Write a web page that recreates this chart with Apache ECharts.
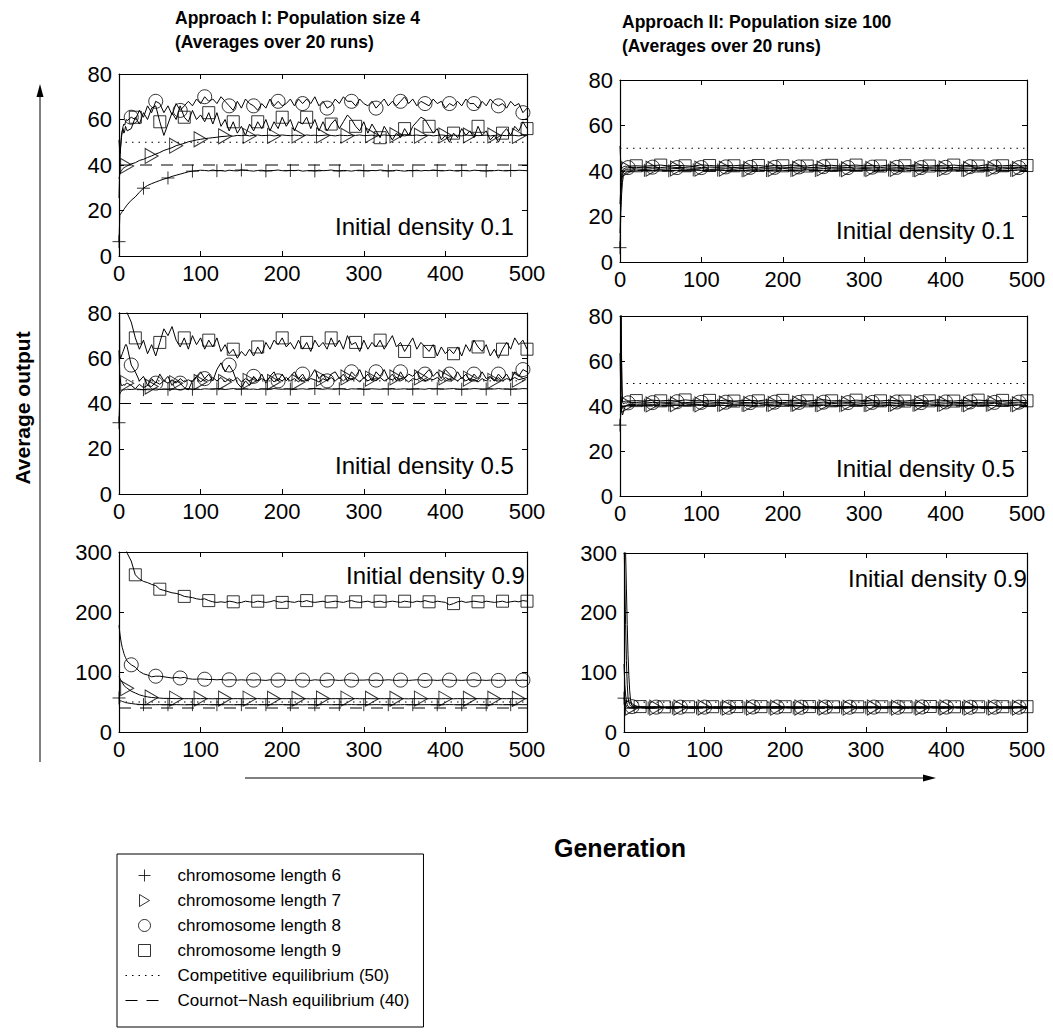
<!DOCTYPE html>
<html><head><meta charset="utf-8">
<script src="https://cdn.jsdelivr.net/npm/echarts@6/dist/echarts.min.js"></script>
<style>html,body{margin:0;padding:0;background:#fff}#c{width:1053px;height:1035px}</style>
</head><body><div id="c"></div>
<script>
// ---------- generations (x values) ----------
const GEN_I = [0,1,2,3,4,5,6,7,8,9,10,
 15,20,25,30,35,40,45,50,55,60,
 65,70,75,80,85,90,95,100,105,110,
 115,120,125,130,135,140,145,150,155,160,
 165,170,175,180,185,190,195,200,205,210,
 215,220,225,230,235,240,245,250,255,260,
 265,270,275,280,285,290,295,300,305,310,
 315,320,325,330,335,340,345,350,355,360,
 365,370,375,380,385,390,395,400,405,410,
 415,420,425,430,435,440,445,450,455,460,
 465,470,475,480,485,490,495,500];
const GEN_II = [0,1,2,3,4,5,6,7,8,9,10,
 20,30,40,50,60,70,80,90,100,110,
 120,130,140,150,160,170,180,190,200,210,
 220,230,240,250,260,270,280,290,300,310,
 320,330,340,350,360,370,380,390,400,410,
 420,430,440,450,460,470,480,490,500];

const X_TICKS = [0,100,200,300,400,500];
const COMPETITIVE = 50;
const COURNOT = 40;
const LEGEND_NAMES = ['chromosome length 6','chromosome length 7','chromosome length 8','chromosome length 9','Competitive equilibrium (50)','Cournot\u2212Nash equilibrium (40)'];
const TITLES = ['Approach I: Population size 4\n(Averages over 20 runs)','Approach II: Population size 100\n(Averages over 20 runs)'];
const DENSITY_LABELS = ['Initial density 0.1','Initial density 0.1','Initial density 0.5','Initial density 0.5','Initial density 0.9','Initial density 0.9'];

// ---------- Approach I, density 0.1 ----------
const P1_L6 = [6.3,18,18.5,19,19.5,20,20.5,21,21.5,22,22.5,
 24.5,26,28,29.8,31,31.8,32.5,33.2,33.8,34.3,
 35,35.5,36,36.5,37,37.3,37.5,37.7,37.6,37.4,
 37.8,37.5,37.6,37.3,37.7,37.5,37.4,37.8,37.6,37.5,
 37.3,37.6,37.7,37.4,37.5,37.6,37.8,37.5,37.4,37.6,
 37.5,37.7,37.3,37.5,37.6,37.4,37.7,37.5,37.6,37.8,
 37.5,37.4,37.6,37.5,37.3,37.6,37.7,37.5,37.4,37.6,
 37.5,37.8,37.6,37.4,37.5,37.7,37.5,37.3,37.6,37.5,
 37.7,37.4,37.6,37.5,37.8,37.6,37.4,37.5,37.7,37.5,
 37.3,37.6,37.5,37.4,37.7,37.6,37.5,37.4,37.6,37.5,
 37.7,37.5,37.4,37.6,37.5,37.7,37.6,37.5];
const P1_L7 = [34,36,37,37.5,38,38.5,38.8,39,39.2,39.4,39.6,
 40.5,41,42,42.5,43.3,44,44.8,45.5,46.4,47,
 47.6,48.5,49,49.5,50.2,50.6,51,51.3,51.6,51.8,
 52,52.2,52.5,52.6,52.8,52.7,53,52.9,53.1,52.8,
 53,53.2,52.9,53,53.1,52.8,53,53.2,53,52.9,
 53.1,53,52.8,53.2,53,53.1,52.9,53,53.2,53,
 52.8,53.1,53,52.9,53.1,53,53.2,52.9,53,53.1,
 52.8,53,53.2,53,52.9,53.1,53,52.8,53.1,53,
 53.2,52.9,53,53.1,52.8,53,53.2,53,52.9,53.1,
 53,52.8,53.2,53,53.1,52.9,53,53.1,52.8,53,
 53.2,53,52.9,53.1,53,52.8,53.1,53];
const P1_L8 = [25.5,40,48,53,55,57,58,57.5,59,60,59.5,
 61,60,64,61,66,63,68,67,63,66,
 62,67,64,66,68,66,69,67,70,68,
 69,67,70,68,66,64,68,65,69,67,
 66,64,67,65,69,66,68,66,67,69,
 66,69,67,69,67,70,66,68,65,66,
 69,67,70,68,68,66,69,67,66,68,
 65,67,69,66,68,66,68,70,67,69,
 66,68,67,66,69,67,68,65,67,66,
 68,66,69,67,67,65,68,66,69,67,
 66,67,65,68,66,67,63,65];
const P1_L9 = [51,45,48,52,55,56,54,55,57,56,55,
 56,61,58,63,60,65,66,59,53,58,
 63,60,66,61,59,64,60,62,59,63,
 58,63,57,60,55,59,54,57,53,58,
 55,59,56,60,55,59,56,61,57,60,
 55,59,58,61,56,60,55,59,55,58,
 60,56,59,62,60,57,55,59,54,58,
 55,52,57,54,51,54,52,56,53,57,
 59,61,60,57,54,56,51,53,50,54,
 52,56,53,55,52,57,53,55,51,53,
 50,54,56,53,57,55,59,56];

// ---------- Approach II, density 0.1 ----------
const P2_L6 = [6.3,22,30,35,37.5,38.5,39,39.3,39.5,39.7,39.8,
 40.1,40.3,40.2,40.4,40.1,40.3,40.2,40.5,40.2,40.3,
 40.4,40.2,40.3,40.1,40.4,40.3,40.2,40.4,40.3,40.2,
 40.3,40.5,40.2,40.3,40.1,40.4,40.3,40.2,40.4,40.3,
 40.2,40.4,40.3,40.5,40.2,40.3,40.4,40.2,40.3,40.4,
 40.3,40.2,40.4,40.3,40.5,40.2,40.3,40.4,40.3];
const P2_L7 = [12.7,28,35,38,39.5,40.2,40.5,40.6,40.7,40.7,40.8,
 40.9,40.7,41,40.8,40.9,41.1,40.8,40.9,41,40.7,
 40.9,41,40.8,41.1,40.9,40.8,41,40.9,41.2,40.8,
 41,40.9,40.8,41.1,40.9,41,40.8,40.9,41.1,40.9,
 40.8,41,40.9,41.2,40.9,40.8,41,40.9,41.1,40.8,
 41,40.9,41.1,40.8,41,40.9,41.2,40.9,41];
const P2_L8 = [25.5,33,38,40,40.8,41,41.2,41.3,41.4,41.3,41.5,
 41.6,41.4,41.7,41.5,41.8,41.5,41.6,41.9,41.5,41.7,
 41.6,41.8,41.5,41.7,41.6,41.4,41.8,41.6,41.7,41.5,
 41.8,41.6,41.5,41.9,41.6,41.7,41.5,41.8,41.6,41.7,
 41.5,41.8,41.6,41.7,41.9,41.5,41.6,41.8,41.6,41.5,
 41.7,41.9,41.6,41.5,41.8,41.6,41.7,41.5,41.8];
const P2_L9 = [51,43,41,41.5,41.8,42,42,42.1,42,42.2,42.1,
 42.3,42.1,42.4,42.6,42.2,42.5,42.3,42.1,42.7,42.4,
 42.2,42.5,42.3,42.6,42.2,42.4,42.1,42.5,42.3,42.6,
 42.4,42.2,42.7,42.3,42.5,42.2,42.4,42.6,42.3,42.5,
 42.2,42.6,42.4,42.3,42.5,42.7,42.2,42.4,42.3,42.6,
 42.3,42.5,42.2,42.7,42.4,42.3,42.5,42.2,42.4];

// ---------- Approach I, density 0.5 ----------
const P3_L6 = [31.5,44,45,45.5,45.8,46,46.1,46,46.2,46.1,46.3,
 46.2,46.4,46.3,46.1,46.4,46.3,46.5,46.2,46.4,46.3,
 46.5,46.3,46.2,46.4,46.6,46.3,46.4,46.2,46.5,46.4,
 46.3,46.5,46.4,46.2,46.4,46.6,46.3,46.4,46.5,46.3,
 46.4,46.2,46.5,46.4,46.3,46.6,46.4,46.3,46.5,46.4,
 46.2,46.4,46.5,46.3,46.4,46.6,46.4,46.3,46.5,46.4,
 46.3,46.5,46.4,46.2,46.5,46.4,46.6,46.3,46.4,46.5,
 46.4,46.3,46.5,46.4,46.6,46.3,46.4,46.5,46.3,46.4,
 46.5,46.4,46.3,46.6,46.4,46.5,46.3,46.4,46.5,46.6,
 46.4,46.3,46.5,46.4,46.6,46.5,46.3,46.4,46.5,46.4,
 46.6,46.4,46.5,46.3,46.5,46.4,46.6,46.5];
const P3_L7 = [63.5,52,49,48,48,48,48.5,48,48.5,49,49,
 48,46.5,48.5,47,48,47.5,49.5,48.5,50,49,
 50.5,49,51,49.5,50.5,49.5,51.5,49.5,51,50,
 51.5,50,51.5,49.5,51,50,51.5,49.5,51,50,
 51.5,50,51,50,51.5,49.5,51,50,51.5,50,
 51,49.5,51.5,50,51,50.5,49.5,51,50,51.5,
 50,51.5,50,51.5,50.5,51,49.5,51.5,50,51,
 50,51.5,50,51,50.5,51.5,50,51,49.5,51,
 50.5,51.5,50,51,50.5,51.5,50,51.5,50.5,51,
 50,51.5,50,51,50.5,49.5,51,50,51.5,50,
 51.5,50,51,50.5,51.5,50.5,51,51.5];
const P3_L8 = [127.5,62,60,61,62,63,64,65,66,66,65,
 57,54,50,52,48,51,49,53,50,52,
 48,50,49,47,46,50,52,54,51,53,
 50,55,58,54,57,54,49,47,50,48,
 52,50,53,49,52,54,50,53,50,52,
 54,51,53,50,52,55,51,53,50,53,
 54,51,53,50,54,52,55,51,53,50,
 54,52,55,51,53,50,54,51,53,52,
 54,51,53,55,52,54,51,55,53,51,
 54,51,53,50,53,51,54,51,52,50,
 53,51,53,50,54,52,55,54];
const P3_L9 = [255,150,120,105,95,90,87,85,83,81,80,
 76,69,64,68,62,66,61,67,73,70,
 74,68,65,69,64,70,66,69,64,68,
 65,69,63,66,62,64,60,63,61,64,
 61,65,62,67,64,68,66,69,65,67,
 64,68,64,67,63,68,65,67,64,69,
 65,68,64,70,66,67,63,68,64,67,
 65,68,64,67,70,65,67,63,66,69,
 64,67,65,63,66,61,65,62,64,62,
 65,61,66,63,68,65,63,66,61,64,
 60,64,67,64,69,66,68,64];

// ---------- Approach II, density 0.5 ----------
const P4_L6 = [31.5,37,38.5,39.2,39.6,39.8,40,40.1,40.2,40.2,40.3,
 40.2,40.4,40.3,40.1,40.4,40.2,40.3,40.5,40.2,40.4,
 40.3,40.2,40.4,40.3,40.1,40.3,40.4,40.2,40.5,40.3,
 40.2,40.4,40.3,40.2,40.4,40.1,40.3,40.4,40.2,40.3,
 40.4,40.2,40.3,40.5,40.3,40.2,40.4,40.3,40.1,40.4,
 40.3,40.2,40.4,40.3,40.2,40.5,40.3,40.4,40.2];
const P4_L7 = [63.5,45,38,36,37,38.5,39.5,40,40.3,40.5,40.6,
 40.8,41,40.7,40.9,41.1,40.8,41,40.9,40.7,41,
 40.9,41.1,40.8,41,40.9,41.2,40.8,40.9,41,40.8,
 41.1,40.9,41,40.8,41.2,40.9,41,40.8,41.1,40.9,
 41,40.8,41.1,40.9,41,41.2,40.9,40.8,41,40.9,
 41.1,40.8,41,40.9,41.2,40.9,41,40.8,41];
const P4_L8 = [127.5,85,60,42,41,41.2,41.3,41.4,41.3,41.5,41.4,
 41.6,41.8,41.5,41.7,41.6,41.9,41.5,41.7,41.6,41.8,
 41.5,41.7,41.9,41.6,41.5,41.8,41.6,41.7,41.5,41.8,
 41.6,41.9,41.5,41.7,41.6,41.8,41.5,41.7,41.9,41.6,
 41.7,41.5,41.8,41.6,41.7,41.5,41.9,41.6,41.8,41.5,
 41.6,41.8,41.5,41.7,41.6,41.9,41.6,41.7,41.5];
const P4_L9 = [255,120,48,42,42,42.1,42,42.2,42.1,42,42.2,
 42.4,42.2,42.6,42.3,42.5,42.2,42.7,42.4,42.3,42.5,
 42.3,42.6,42.2,42.4,42.5,42.3,42.7,42.2,42.5,42.4,
 42.6,42.3,42.5,42.8,42.3,42.4,42.2,42.6,42.4,42.5,
 42.3,42.5,42.4,42.2,42.6,42.4,42.3,42.7,42.4,42.2,
 42.5,42.3,42.6,42.4,42.2,42.5,42.4,42.6,42.3];

// ---------- Approach I, density 0.9 ----------
const P5_L6 = [56.7,53,52,51.5,51,50.5,50,49.5,49,48.8,48.5,
 47.5,46.5,46,45.6,45.5,45.4,45.5,45.6,45.4,45.5,
 45.4,45.6,45.5,45.3,45.5,45.6,45.4,45.5,45.7,45.5,
 45.4,45.5,45.6,45.4,45.5,45.3,45.6,45.5,45.4,45.6,
 45.5,45.4,45.6,45.5,45.7,45.4,45.5,45.6,45.5,45.4,
 45.6,45.5,45.3,45.5,45.6,45.4,45.5,45.6,45.5,45.4,
 45.5,45.6,45.4,45.5,45.7,45.5,45.4,45.6,45.5,45.4,
 45.6,45.5,45.4,45.5,45.6,45.3,45.5,45.6,45.4,45.5,
 45.6,45.4,45.5,45.6,45.5,45.4,45.6,45.5,45.7,45.5,
 45.4,45.5,45.6,45.4,45.5,45.6,45.5,45.4,45.5,45.6,
 45.5,45.4,45.6,45.5,45.4,45.6,45.5,45.5];
const P5_L7 = [93,90,87,85,83,80,78,76,75,74,73,
 68,65,62,60,58.5,57.5,57,56.5,56,56,
 55.8,55.6,55.7,55.5,55.6,55.4,55.6,55.5,55.7,55.5,
 55.4,55.6,55.5,55.7,55.4,55.5,55.6,55.5,55.3,55.6,
 55.5,55.7,55.4,55.5,55.6,55.5,55.4,55.6,55.5,55.7,
 55.5,55.4,55.6,55.5,55.3,55.6,55.5,55.7,55.4,55.5,
 55.6,55.5,55.4,55.6,55.5,55.7,55.5,55.4,55.6,55.5,
 55.4,55.6,55.5,55.7,55.5,55.4,55.6,55.5,55.3,55.6,
 55.5,55.6,55.4,55.5,55.7,55.5,55.4,55.6,55.5,55.4,
 55.6,55.5,55.7,55.4,55.5,55.6,55.5,55.4,55.6,55.5,
 55.4,55.6,55.5,55.7,55.5,55.4,55.6,55.5];
const P5_L8 = [178,165,155,147,141,136,131,127,124,121,118,
 112,108,101,97,95,92,93,93,92,91,
 90,91,90,91,89,88,88,88.5,88,87.5,
 87.5,87,87.5,86.5,87,87,86.5,87,86.5,87,
 86.5,87,86.5,86,87,86.5,86.5,87,86.5,86,
 86.5,87,86.5,86.5,86,87,86.5,86,86.5,87,
 86.5,86,86.5,87,86.5,86,86.5,86.5,87,86,
 86.5,86,86.5,87,86.5,86,86.5,86.5,86,86.5,
 87,86.5,86,86.5,86.5,86,86.5,87,86.5,86,
 86.5,86,86.5,86.5,87,86,86.5,86,86.5,86.5,
 86,86.5,86,86.5,86.5,86,86.5,86];
const P5_L9 = [460,420,390,370,350,335,325,315,308,302,298,
 285,262,255,251,249,246,244,238,236,234,
 232,231,229,226,225,224,222,221,222,219,
 217,216,217,216,218,217,215,216,218,217,
 216,218,217,216,217,219,217,216,218,217,
 216,218,217,219,217,216,217,218,216,217,
 218,217,216,218,219,217,216,217,218,216,
 217,218,216,217,218,217,216,218,217,216,
 218,217,219,217,216,218,217,216,212,214,
 217,218,216,217,218,217,216,218,217,216,
 217,218,216,217,218,217,219,218];

// ---------- Approach II, density 0.9 ----------
const P6_L6 = [56.7,50,46,43,41.5,41,40.7,40.5,40.4,40.3,40.3,
 40.3,40.2,40.4,40.3,40.2,40.4,40.3,40.1,40.3,40.4,
 40.2,40.3,40.4,40.2,40.3,40.1,40.4,40.3,40.2,40.3,
 40.4,40.2,40.3,40.3,40.1,40.4,40.2,40.3,40.4,40.2,
 40.3,40.4,40.2,40.3,40.1,40.3,40.4,40.2,40.3,40.4,
 40.2,40.3,40.4,40.1,40.3,40.2,40.4,40.3,40.3];
const P6_L7 = [114,80,62,52,46,43,42,41.5,41.2,41,40.9,
 40.8,40.9,40.7,41,40.8,40.9,40.7,40.8,41,40.9,
 40.7,40.8,40.9,41,40.8,40.7,40.9,40.8,41,40.8,
 40.9,40.7,40.8,41,40.9,40.8,40.7,40.9,40.8,41,
 40.8,40.9,40.7,40.8,41,40.9,40.8,40.7,40.9,40.8,
 41,40.8,40.9,40.7,40.8,40.9,41,40.8,40.9];
const P6_L8 = [330,250,180,120,80,58,50,46,44,43,42.5,
 41.8,41.6,41.7,41.5,41.8,41.6,41.9,41.5,41.7,41.6,
 41.8,41.5,41.7,41.6,41.9,41.6,41.5,41.8,41.6,41.7,
 41.5,41.8,41.6,41.7,41.5,41.9,41.6,41.8,41.5,41.7,
 41.6,41.8,41.5,41.7,41.6,41.9,41.5,41.7,41.8,41.6,
 41.7,41.5,41.8,41.6,41.7,41.5,41.9,41.6,41.7];
const P6_L9 = [460,380,300,240,180,130,95,70,55,47,44,
 42.6,42.3,42.5,42.2,42.4,42.6,42.3,42.5,42.2,42.4,
 42.5,42.3,42.6,42.4,42.2,42.5,42.3,42.7,42.4,42.3,
 42.4,42.6,42.3,42.5,42.2,42.4,42.6,42.3,42.5,42.4,
 42.3,42.5,42.6,42.2,42.4,42.3,42.7,42.4,42.5,42.3,
 42.4,42.6,42.3,42.5,42.2,42.4,42.3,42.6,42.4];

const MARK_STEP = 30;
const MARK_OFFSET_I = [0, 10, 15, 20];
const MARK_OFFSET_II = [0, 10, 10, 20];

// ---------- layout / style (not data) ----------
const FONT = '"Liberation Sans", Arial, Helvetica, sans-serif';
const PANELS = [
  {gen: GEN_I,  ymax: 80,  yint: 20,  lines: [P1_L6,P1_L7,P1_L8,P1_L9], offs: MARK_OFFSET_I,  box: {left:119, top:74,  width:408, height:182}, lab: [335,226]},
  {gen: GEN_II, ymax: 80,  yint: 20,  lines: [P2_L6,P2_L7,P2_L8,P2_L9], offs: MARK_OFFSET_II, box: {left:620, top:80,  width:407, height:182}, lab: [836,230]},
  {gen: GEN_I,  ymax: 80,  yint: 20,  lines: [P3_L6,P3_L7,P3_L8,P3_L9], offs: MARK_OFFSET_I,  box: {left:119, top:313, width:408, height:181}, lab: [335,465]},
  {gen: GEN_II, ymax: 80,  yint: 20,  lines: [P4_L6,P4_L7,P4_L8,P4_L9], offs: MARK_OFFSET_II, box: {left:620, top:316, width:407, height:180}, lab: [836,468]},
  {gen: GEN_I,  ymax: 300, yint: 100, lines: [P5_L6,P5_L7,P5_L8,P5_L9], offs: MARK_OFFSET_I,  box: {left:119, top:552, width:408, height:180}, lab: [346,575]},
  {gen: GEN_II, ymax: 300, yint: 100, lines: [P6_L6,P6_L7,P6_L8,P6_L9], offs: MARK_OFFSET_II, box: {left:624, top:553, width:403, height:179}, lab: [848,578]}
];
const SYMS = [
  {symbol: 'path://M0,5L10,5M5,0L5,10', size: [13,13]},
  {symbol: 'path://M0,0L10,6L0,12Z', size: [13,15]},
  {symbol: 'circle', size: 14},
  {symbol: 'path://M0,0L10,0L10,10L0,10Z', size: [12,12]}
];

PANELS.forEach((p, i) => p.lines.forEach((v, k) => {
  if (v.length !== p.gen.length) console.error('length mismatch panel', i+1, 'series', k, v.length, p.gen.length);
}));

const AX_LINE = {show: true, onZero: false, lineStyle: {color: '#000', width: 1.2}};
const AX_TICK = {show: true, inside: true, length: 5, lineStyle: {color: '#000', width: 1}};
function xAx(i, pos) {
  return {type: 'value', gridIndex: i, position: pos, min: X_TICKS[0], max: X_TICKS[X_TICKS.length-1],
    interval: X_TICKS[1] - X_TICKS[0],
    axisLine: AX_LINE, axisTick: AX_TICK, splitLine: {show: false},
    axisLabel: {show: pos === 'bottom', color: '#000', fontSize: 22, fontFamily: FONT, margin: 6}};
}
function yAx(i, pos, max, itv) {
  return {type: 'value', gridIndex: i, position: pos, min: 0, max: max, interval: itv,
    axisLine: AX_LINE, axisTick: AX_TICK, splitLine: {show: false},
    axisLabel: {show: pos === 'left', color: '#000', fontSize: 22, fontFamily: FONT, margin: 7}};
}

const option = {
  animation: false,
  backgroundColor: '#fff',
  grid: [], xAxis: [], yAxis: [], series: [],
  legend: {
    data: LEGEND_NAMES, orient: 'vertical', left: 117, top: 854,
    padding: [13, 14, 18, 8], itemGap: 8, itemWidth: 38, itemHeight: 12,
    borderColor: '#000', borderWidth: 1, selectedMode: false,
    textStyle: {fontSize: 17, color: '#000', fontFamily: FONT, lineHeight: 17, padding: [0, 0, 0, 9]},
    itemStyle: {borderWidth: 1}, lineStyle: {width: 1}
  },
  graphic: []
};

PANELS.forEach((p, i) => {
  option.grid.push(Object.assign({show: false, outerBoundsMode: 'none'}, p.box));
  option.xAxis.push(xAx(i, 'bottom'), xAx(i, 'top'));
  option.yAxis.push(yAx(i, 'left', p.ymax, p.yint), yAx(i, 'right', p.ymax, p.yint));
  const xa = 2*i, ya = 2*i;
  option.series.push({type: 'line', name: LEGEND_NAMES[4], xAxisIndex: xa, yAxisIndex: ya,
    data: [[X_TICKS[0], COMPETITIVE], [X_TICKS[X_TICKS.length-1], COMPETITIVE]], symbol: 'none', silent: true, z: 1,
    lineStyle: {color: '#000', width: 1, type: [1.5, 5]},
    itemStyle: {color: 'rgba(0,0,0,0)', borderColor: 'rgba(0,0,0,0)', borderWidth: 0}});
  option.series.push({type: 'line', name: LEGEND_NAMES[5], xAxisIndex: xa, yAxisIndex: ya,
    data: [[X_TICKS[0], COURNOT], [X_TICKS[X_TICKS.length-1], COURNOT]], symbol: 'none', silent: true, z: 1,
    lineStyle: {color: '#000', width: 1, type: [12, 9]},
    itemStyle: {color: 'rgba(0,0,0,0)', borderColor: 'rgba(0,0,0,0)', borderWidth: 0}});
  p.lines.forEach((vals, k) => {
    const data = p.gen.map((g, j) => [g, vals[j]]);
    option.series.push({type: 'line', xAxisIndex: xa, yAxisIndex: ya, data: data,
      symbol: 'none', showSymbol: false, silent: true, clip: true, z: 2,
      lineStyle: {color: '#000', width: 1}, itemStyle: {color: '#000'}});
    const off = p.offs[k];
    const marks = data.filter(d => d[0] >= off && (d[0] - off) % MARK_STEP === 0);
    option.series.push({type: 'scatter', name: LEGEND_NAMES[k], xAxisIndex: xa, yAxisIndex: ya, data: marks,
      symbol: SYMS[k].symbol, symbolSize: SYMS[k].size, silent: true, clip: true, z: 3,
      itemStyle: {color: 'rgba(0,0,0,0)', borderColor: '#000', borderWidth: 1}});
  });
  option.graphic.push({type: 'text', x: p.lab[0], y: p.lab[1], z: 10,
    style: {text: DENSITY_LABELS[i], fill: '#000', fontSize: 24, fontFamily: FONT, textVerticalAlign: 'middle'}});
});

option.graphic.push(
  {type: 'text', x: 175, y: 30, style: {text: TITLES[0], fill: '#000', fontSize: 17.5, fontWeight: 'bold', fontFamily: FONT, lineHeight: 24, textVerticalAlign: 'middle'}},
  {type: 'text', x: 622, y: 34, style: {text: TITLES[1], fill: '#000', fontSize: 17.5, fontWeight: 'bold', fontFamily: FONT, lineHeight: 24, textVerticalAlign: 'middle'}},
  {type: 'text', x: 22, y: 408, rotation: Math.PI/2, style: {text: 'Average output', fill: '#000', fontSize: 21, fontWeight: 'bold', fontFamily: FONT, textAlign: 'center', textVerticalAlign: 'middle'}},
  {type: 'text', x: 620, y: 848, style: {text: 'Generation', fill: '#000', fontSize: 25, fontWeight: 'bold', fontFamily: FONT, textAlign: 'center', textVerticalAlign: 'middle'}},
  {type: 'line', shape: {x1: 40, y1: 762, x2: 40, y2: 96}, style: {stroke: '#000', lineWidth: 1}},
  {type: 'polygon', shape: {points: [[40, 84], [36.5, 97], [43.5, 97]]}, style: {fill: '#000'}},
  {type: 'line', shape: {x1: 245, y1: 778, x2: 924, y2: 778}, style: {stroke: '#000', lineWidth: 1}},
  {type: 'polygon', shape: {points: [[936, 778], [923, 774.5], [923, 781.5]]}, style: {fill: '#000'}}
);

const chart = echarts.init(document.getElementById('c'), null, {renderer: 'svg'});
chart.setOption(option);
</script>
</body></html>
